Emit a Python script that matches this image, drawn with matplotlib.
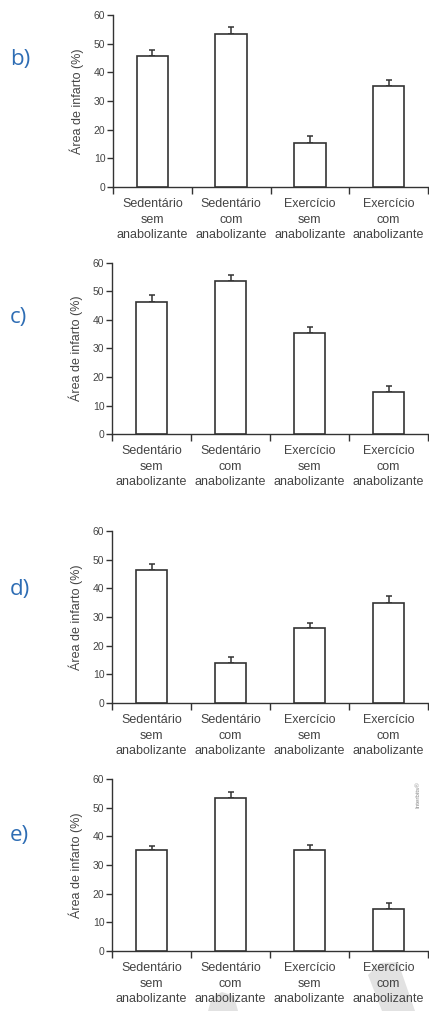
import numpy as np
import matplotlib.pyplot as plt
from matplotlib.patches import Polygon

plt.rcParams['font.family'] = ['Liberation Sans', 'DejaVu Sans']

categories = ["Sedentário\nsem\nanabolizante", "Sedentário\ncom\nanabolizante",
              "Exercício\nsem\nanabolizante", "Exercício\ncom\nanabolizante"]
panel_labels = ["b)", "c)", "d)", "e)"]
values_b = [45.8, 53.5, 15.3, 35.1]
errors_b = [2.1, 2.3, 2.4, 2.3]
values_c = [46.3, 53.6, 35.3, 14.8]
errors_c = [2.3, 2.2, 2.2, 2.2]
values_d = [46.3, 13.9, 26.1, 35.0]
errors_d = [2.3, 2.3, 1.8, 2.4]
values_e = [35.1, 53.5, 35.1, 14.6]
errors_e = [1.7, 1.9, 1.9, 2.1]
yticks = [0, 10, 20, 30, 40, 50, 60]

W, H = 429, 1011
# axes boxes in pixels: left, right, top (y=60), bottom (y=0)
boxes = [(113, 428, 15, 187), (112, 428, 263, 434), (112, 428, 531, 703), (112, 428, 779, 951)]
letter_y = [60, 318, 590, 835]

ink = "#333333"
txt = "#444444"

fig = plt.figure(figsize=(W / 100, H / 100), dpi=100)
fig.patch.set_facecolor("white")

def px(pts):
    return [[a / W, 1 - b / H] for a, b in pts]

# faint watermark strokes behind the last panel's labels
fig.patches.append(Polygon(px([(368, 975), (380, 963), (398, 962), (415, 1011), (382, 1011)]),
                           closed=True, transform=fig.transFigure, facecolor="#e2e2e2", edgecolor="none", zorder=-5))
fig.patches.append(Polygon(px([(208, 1011), (212, 997), (222, 992), (234, 996), (238, 1011)]),
                           closed=True, transform=fig.transFigure, facecolor="#e2e2e2", edgecolor="none", zorder=-5))

data = [(values_b, errors_b), (values_c, errors_c), (values_d, errors_d), (values_e, errors_e)]
x = np.arange(len(categories)) + 0.5

for (vals, errs), (l, r, t, b), lab, ly in zip(data, boxes, panel_labels, letter_y):
    ax = fig.add_axes([l / W, 1 - b / H, (r - l) / W, (b - t) / H])
    ax.patch.set_alpha(0)
    ax.bar(x, vals, width=0.4, facecolor="white", edgecolor=ink, linewidth=1.2, zorder=3)
    ax.errorbar(x, vals, yerr=[np.zeros(len(errs)), errs], fmt="none", ecolor=ink,
                elinewidth=1.1, capsize=2.5, capthick=1.1, zorder=2)
    ax.set_xlim(0, 4)
    ax.set_ylim(0, 60)
    ax.spines["top"].set_visible(False)
    ax.spines["right"].set_visible(False)
    ax.spines["left"].set_color(ink)
    ax.spines["bottom"].set_color(ink)
    ax.spines["left"].set_linewidth(1.0)
    ax.spines["bottom"].set_linewidth(1.0)
    ax.set_yticks(yticks)
    ax.tick_params(axis="y", direction="out", length=4, width=1, colors=ink, labelcolor=txt,
                   labelsize=7.5, pad=1.5)
    ax.set_xticks(np.arange(5))
    ax.set_xticklabels([])
    ax.set_xticks(x, minor=True)
    ax.set_xticklabels(categories, minor=True, fontsize=9, color=txt, linespacing=1.38)
    ax.tick_params(axis="x", which="major", direction="out", length=5, width=1, colors=ink)
    ax.tick_params(axis="x", which="minor", length=0, pad=8)
    ax.set_ylabel("Área de infarto (%)", fontsize=9, color=txt, labelpad=7)
    fig.text(10 / W, 1 - ly / H, lab, fontsize=16, color="#2e6db4", family="Open Sans",
             ha="left", va="center")

fig.text(418 / W, 1 - 795 / H, "Interbits®", fontsize=4.5, color="#888888", rotation=90,
         ha="center", va="center")

fig.savefig("out.png", dpi=100)
